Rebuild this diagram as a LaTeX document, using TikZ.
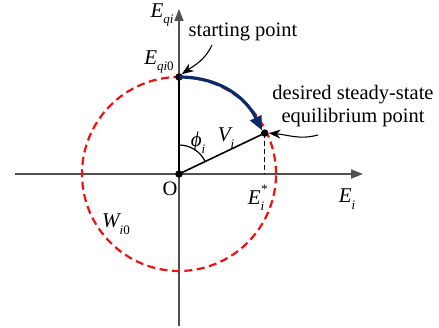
\documentclass[tikz,border=0pt]{standalone}
\usepackage{fontspec}
\setmainfont{Liberation Serif}
\usetikzlibrary{arrows.meta}
\definecolor{axisgray}{HTML}{505050}
\definecolor{navyarc}{HTML}{0B2A6B}
\definecolor{circred}{HTML}{F01010}
\newcommand\lowsub[1]{\raisebox{-0.32em}{\fontsize{13}{13}\selectfont\itshape #1}}
\newcommand\highsup[1]{\raisebox{0.5em}{\fontsize{13}{13}\selectfont #1}}
\begin{document}
\begin{tikzpicture}[x=1pt,y=1pt,
  axisline/.style={draw=axisgray,line width=1.6pt,-{Triangle[length=12pt,width=9pt]}},
  blackline/.style={draw=black,line width=1.6pt},
  dotnode/.style={circle,fill=black,inner sep=0pt,minimum size=7.5pt},
  lbl/.style={inner sep=0pt,font=\fontsize{20.5}{23}\selectfont},
  mlbl/.style={inner sep=0pt,font=\fontsize{21}{23}\selectfont\itshape},
  notearrow/.style={draw=black,line width=1.1pt,-{Stealth[length=12pt,width=9pt]}}]
\useasboundingbox (-179,-154) rectangle (260,174);
% axes
\coordinate (xl) at (-164,0);
\coordinate (xr) at (184,0);
\coordinate (yb) at (0,-152);
\coordinate (yt) at (0,165);
\draw[axisline] (xl) -- (xr);
\draw[axisline] (yb) -- (yt);
% circle
\draw[circred,line width=2.2pt,dash pattern=on 8pt off 4.5pt] (0,0) circle[radius=97];
% points
\node[dotnode] (O) at (0,0) {};
\node[dotnode] (S) at (0,97) {};
\node[dotnode] (Q) at (25.5:95) {};
\coordinate (Qx) at (Q |- O);
\draw[blackline] (O.center) -- (S.center);
\draw[blackline] (O.center) -- (Q.center);
\draw[black,line width=1.4pt,dash pattern=on 5pt off 3pt] (Q.center) -- (Qx);
% angle arc
\draw[black,line width=1.2pt] (0,29) arc[start angle=90,end angle=25.5,radius=29];
% blue arc
\draw[navyarc,line width=3.2pt,-{Triangle[length=14pt,width=12pt]}] (S.center) to[out=0,in=116] (Q.north west);
% annotation arrows
\coordinate (sa) at (33,129);
\coordinate (qa) at (139,39);
\draw[notearrow] (sa) to[out=-115,in=35] (S.north east);
\draw[notearrow] (qa) to[out=195,in=-5] (Q.east);
% labels
\node[mlbl] (lEqi) at (-17,159) {E\lowsub{qi}};
\node[mlbl] (lEqi0) at (-20,112) {E\lowsub{qi}\lowsub{\upshape 0}};
\node[lbl] (lstart) at (64,142) {starting point};
\node[lbl,align=center] (ldes) at (174,68) {desired steady-state\\equilibrium point};
\node[lbl] (lO) at (-9,-15) {O};
\node[mlbl] (lEs) at (77,-24) {E\rlap{\highsup{*}}\lowsub{i}};
\node[mlbl] (lEi) at (168,-25) {E\lowsub{i}};
\node[mlbl] (lW) at (-63,-50) {W\lowsub{i}\lowsub{\upshape 0}};
\node[mlbl] (lphi) at (19,31) {ϕ\lowsub{i}};
\node[mlbl] (lV) at (47,36) {V\lowsub{i}};
\end{tikzpicture}
\end{document}
